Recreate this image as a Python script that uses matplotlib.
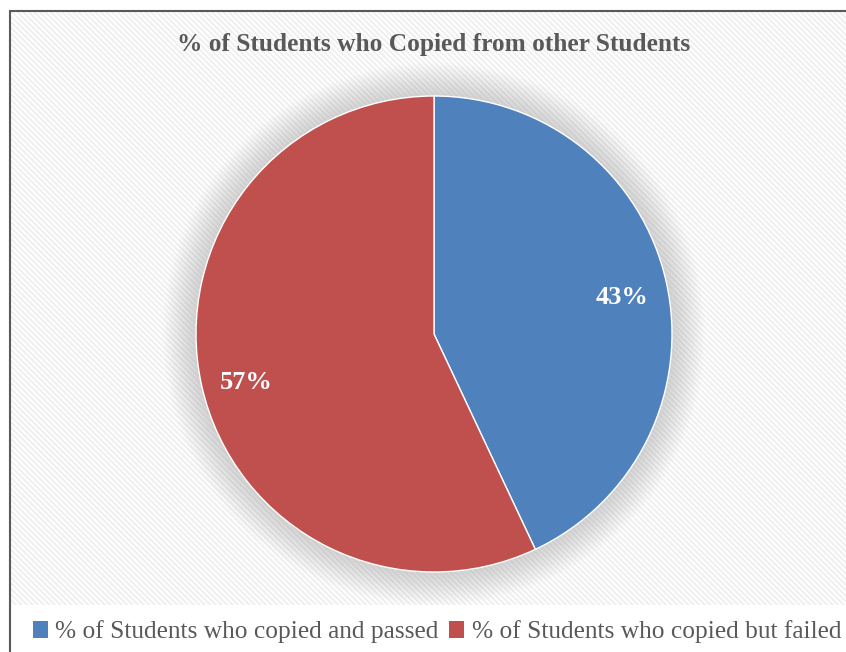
import numpy as np
import matplotlib.pyplot as plt
from matplotlib.patches import Rectangle, Circle, Patch

plt.rcParams['font.family'] = ['Liberation Serif', 'DejaVu Serif']
plt.rcParams['hatch.linewidth'] = 1.4

labels = ['% of Students who copied and passed', '% of Students who copied but failed']
values = [43, 57]
colors = ['#4f81bd', '#c0504d']
title = '% of Students who Copied from other Students'

W, H = 846, 652
fig = plt.figure(figsize=(W / 100, H / 100), dpi=100)

# background with diagonal stripes (stops above the legend) and frame
bg = Rectangle((10 / W, 47 / H), 1, 1 - 58 / H, transform=fig.transFigure,
               facecolor='white', edgecolor='#efefef', hatch='\\\\\\\\\\\\',
               linewidth=0, zorder=-3)
fig.patches.append(bg)
frame = Rectangle((10 / W, -0.1), 1.2, 1.1 - 11 / H, transform=fig.transFigure,
                  facecolor='none', edgecolor='#595959', linewidth=1.5, zorder=-2)
fig.patches.append(frame)

# pie axes: center (434, 334) px, radius 238 px
R = 238
lim = 1.3
side = 2 * lim * R
cx, cy = 434, H - 334
ax = fig.add_axes([(cx - side / 2) / W, (cy - side / 2) / H, side / W, side / H])

# soft shadow around the pie
for r in np.linspace(1.14, 1.0, 22):
    ax.add_patch(Circle((0.0, 0.0), r, facecolor='#808080', alpha=0.01,
                        edgecolor='none', zorder=0))

wedges, texts, autotexts = ax.pie(values, colors=colors, startangle=90, counterclock=False,
                                  autopct='%1.0f%%', pctdistance=0.81,
                                  wedgeprops=dict(edgecolor='white', linewidth=1.0),
                                  textprops=dict(color='white', fontsize=19, fontweight='bold'))
for w in wedges:
    w.set_zorder(2)
for t in autotexts:
    t.set_zorder(3)
    t.set_y(t.get_position()[1] - 0.025)
ax.set_xlim(-lim, lim)
ax.set_ylim(-lim, lim)
ax.set_aspect('equal')
ax.axis('off')

fig.text(434 / W, 1 - 44 / H, title, ha='center', va='center',
         fontsize=18.3, fontweight='bold', color='#595959')

handles = [Patch(facecolor=c, edgecolor='none') for c in colors]
fig.legend(handles, labels, loc='center', bbox_to_anchor=(437 / W, 20 / H), ncol=2,
           frameon=False, fontsize=18.3, labelcolor='#595959',
           handlelength=0.6, handleheight=0.6, handletextpad=0.3, columnspacing=0.4)

fig.savefig('out.png', dpi=100)
